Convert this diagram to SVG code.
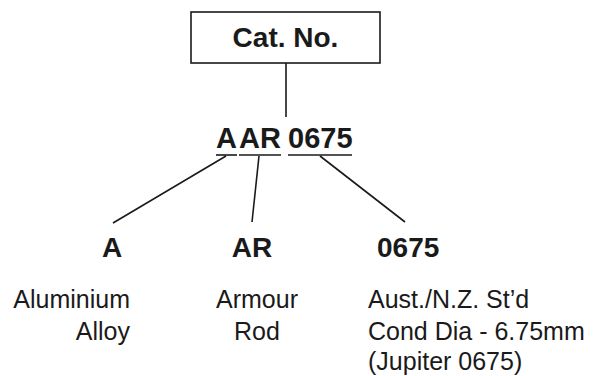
<svg xmlns="http://www.w3.org/2000/svg" width="593" height="376" viewBox="0 0 593 376">
<style>
.b{font-family:"Liberation Sans",Arial,sans-serif;font-weight:bold;fill:#1a1a1a}
.r{font-family:"Liberation Sans",Arial,sans-serif;font-size:25px;fill:#1a1a1a}
.ln{stroke:#1a1a1a;stroke-width:1.6;fill:none}
</style>
<rect width="593" height="376" fill="#fff"/>
<g id="catno">
<rect x="191" y="12" width="189" height="51" fill="#fff" stroke="#1a1a1a" stroke-width="1.6"/>
<text class="b" x="285.5" y="47" font-size="28" text-anchor="middle">Cat. No.</text>
</g>
<g id="code">
<text class="b" x="216" y="148" font-size="29">A</text>
<text class="b" x="239" y="148" font-size="29">AR</text>
<text class="b" x="288" y="148" font-size="29">0675</text>
<line class="ln" x1="216" y1="155" x2="237" y2="155"/>
<line class="ln" x1="239" y1="155" x2="281" y2="155"/>
<line class="ln" x1="288" y1="155" x2="352" y2="155"/>
</g>
<g id="node-a">
<text class="b" x="112" y="257" font-size="28" text-anchor="middle">A</text>
<text class="r" x="130" y="308" text-anchor="end">Aluminium</text>
<text class="r" x="130" y="340" text-anchor="end">Alloy</text>
</g>
<g id="node-ar">
<text class="b" x="252" y="257" font-size="28" text-anchor="middle">AR</text>
<text class="r" x="257" y="308" text-anchor="middle">Armour</text>
<text class="r" x="257" y="340" text-anchor="middle">Rod</text>
</g>
<g id="node-0675">
<text class="b" x="377" y="257" font-size="28">0675</text>
<text class="r" x="368" y="308">Aust./N.Z. St’d</text>
<text class="r" x="368" y="340">Cond Dia - 6.75mm</text>
<text class="r" x="368" y="370">(Jupiter 0675)</text>
</g>
<g id="connectors">
<line class="ln" x1="286" y1="63" x2="286" y2="117"/>
<line class="ln" x1="226" y1="156" x2="113" y2="223"/>
<line class="ln" x1="259" y1="156" x2="252" y2="222"/>
<line class="ln" x1="320" y1="156" x2="405" y2="222"/>
</g>
</svg>
